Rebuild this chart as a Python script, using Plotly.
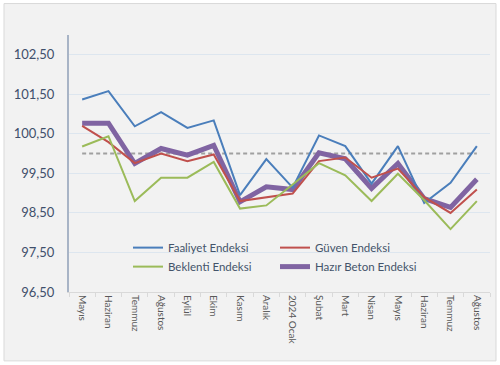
import plotly.graph_objects as go

categories = ["Mayıs", "Haziran", "Temmuz", "Ağustos", "Eylül", "Ekim", "Kasım", "Aralık",
              "2024 Ocak", "Şubat", "Mart", "Nisan", "Mayıs", "Haziran", "Temmuz", "Ağustos"]
faaliyet = [101.37, 101.58, 100.69, 101.05, 100.65, 100.84, 98.95, 99.86,
            99.14, 100.46, 100.19, 99.24, 100.19, 98.75, 99.26, 100.19]
guven = [100.70, 100.29, 99.76, 100.00, 99.81, 99.98, 98.80, 98.90,
         98.99, 99.81, 99.90, 99.39, 99.62, 98.90, 98.50, 99.09]
beklenti = [100.18, 100.44, 98.80, 99.39, 99.39, 99.79, 98.61, 98.69,
            99.22, 99.76, 99.45, 98.80, 99.49, 98.82, 98.09, 98.80]
hazir_beton = [100.77, 100.77, 99.75, 100.13, 99.96, 100.21, 98.78, 99.16,
               99.09, 100.02, 99.87, 99.12, 99.75, 98.86, 98.64, 99.35]
baseline = [100.0] * len(categories)
y_ticks = [96.5, 97.5, 98.5, 99.5, 100.5, 101.5, 102.5]
y_ticktext = ["96,50", "97,50", "98,50", "99,50", "100,50", "101,50", "102,50"]

x = list(range(len(categories)))
FONT = "Lato"

fig = go.Figure()
fig.add_trace(go.Scatter(x=x, y=baseline, mode="lines", showlegend=False, hoverinfo="skip",
                         line=dict(color="#a0a0a0", width=2, dash="4px,3px")))
fig.add_trace(go.Scatter(x=x, y=hazir_beton, mode="lines", name="Hazır Beton Endeksi",
                         legendrank=4, line=dict(color="#8064a2", width=5)))
fig.add_trace(go.Scatter(x=x, y=faaliyet, mode="lines", name="Faaliyet Endeksi",
                         legendrank=1, line=dict(color="#4a7ebb", width=2)))
fig.add_trace(go.Scatter(x=x, y=guven, mode="lines", name="Güven Endeksi",
                         legendrank=2, line=dict(color="#c0504d", width=2)))
fig.add_trace(go.Scatter(x=x, y=beklenti, mode="lines", name="Beklenti Endeksi",
                         legendrank=3, line=dict(color="#9bbb59", width=2)))

L, R, T, B = 69, 10, 34.5, 73
pw, ph = 500 - L - R, 365 - T - B

def px(v):
    return (v - L) / pw

def py(v):
    return (365 - B - v) / ph

fig.add_shape(type="rect", xref="paper", yref="paper", layer="below",
              x0=px(4), x1=px(496), y0=py(361), y1=py(3),
              fillcolor="#f2f2f2", line=dict(color="#d9d9d9", width=1))

fig.update_layout(
    width=500, height=365,
    margin=dict(l=L, r=R, t=T, b=B, autoexpand=False),
    paper_bgcolor="white", plot_bgcolor="rgba(0,0,0,0)",
    font=dict(family=FONT, color="#44546a"),
    legend=dict(orientation="h", x=px(128), xanchor="left", y=py(233), yanchor="top",
                entrywidth=102, entrywidthmode="pixels", bgcolor="rgba(0,0,0,0)",
                font=dict(size=11.5, color="#44546a", family=FONT), traceorder="normal"),
    xaxis=dict(range=[-0.5, len(categories) - 0.5], tickvals=x, ticktext=categories,
               tickangle=90, tickfont=dict(size=10, color="#595959", family=FONT),
               showgrid=False, zeroline=False, showline=True, linecolor="#d9d9d9", linewidth=1,
               automargin=False,
               ticks="", minor=dict(tick0=-0.5, dtick=1, ticks="outside", ticklen=4,
                                    tickcolor="#d9d9d9", showgrid=False)),
    yaxis=dict(range=[96.5, 103.0], tickvals=y_ticks, ticktext=y_ticktext,
               tickfont=dict(size=13, color="#3f4f6b", family=FONT), automargin=False,
               showgrid=True, gridcolor="#dde6ef", gridwidth=1, zeroline=False,
               showline=True, linecolor="#a8b4c6", linewidth=2, ticks="", ticklabelstandoff=10),
)

fig.write_html("out.html", config={"displayModeBar": False},
               post_script="document.body.style.margin='0';")
